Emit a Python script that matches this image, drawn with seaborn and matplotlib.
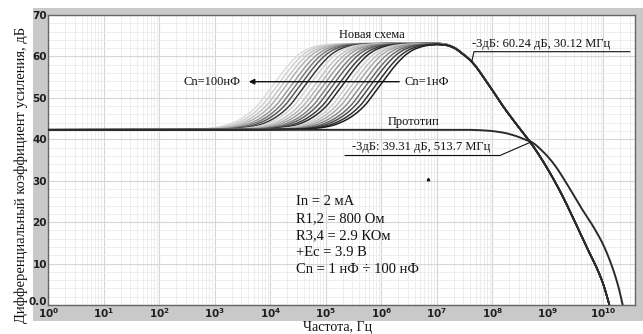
import numpy as np
import pandas as pd
import matplotlib
matplotlib.use("Agg")
import matplotlib.pyplot as plt
import matplotlib.transforms as mtransforms
import seaborn as sns
from matplotlib.patches import Rectangle
from matplotlib.ticker import FixedLocator, FuncFormatter, LogLocator, MultipleLocator, NullFormatter

# ---------------- data ----------------
y_ticks = [0, 10, 20, 30, 40, 50, 60, 70]
y_tick_labels = ["0.0", "10", "20", "30", "40", "50", "60", "70"]
x_decades = [0, 1, 2, 3, 4, 5, 6, 7, 8, 9, 10]

# Prototype response (log10 f, dB)
proto_logf = [0.0, 7.5, 7.9, 8.2, 8.4, 8.6, 8.71, 8.9, 9.1, 9.4, 9.6, 9.82, 10.0, 10.18, 10.28, 10.35]
proto_db = [42.3, 42.3, 42.1, 41.6, 40.9, 39.9, 39.3, 37.2, 34.2, 28.0, 23.5, 18.9, 14.5, 8.45, 4.0, 0.0]

# New scheme: common high-frequency part (log10 f, dB)
new_hi_logf = [7.0, 7.15, 7.3, 7.45, 7.63, 7.9, 8.2, 8.5, 8.68, 8.9, 9.2, 9.52, 9.7, 9.9, 10.0, 10.11]
new_hi_db = [63.24, 63.0, 62.3, 60.9, 58.8, 53.9, 47.9, 42.5, 39.4, 35.0, 28.0, 19.2, 14.0, 8.4, 5.0, 0.0]
new_peak_db = 63.24

# New scheme: low-frequency level and rise shape (offset in decades from mid point, dB rise)
base_db = 42.3
rise_off = [-2.5, -1.4, -1.1, -0.9, -0.7, -0.5, -0.3, -0.15, 0.0, 0.15, 0.3, 0.45, 0.6, 0.8, 1.0, 1.5, 2.5, 4.0]
rise_db = [0.0, 0.15, 0.5, 1.0, 2.0, 3.6, 6.0, 8.6, 11.3, 14.0, 16.4, 18.3, 19.5, 20.3, 20.6, 20.8, 20.9, 20.94]

# Mid points (log10 f) of the Cn family, from Cn=100 nF (left) to Cn=1 nF (right)
cn_mid_logf = [4.08, 4.16, 4.24, 4.32, 4.41, 4.49, 4.57, 4.66, 4.74, 4.83, 4.91, 4.99,
               5.08, 5.16, 5.25, 5.33, 5.42, 5.50, 5.58, 5.67, 5.76, 5.84, 5.93, 6.01]
cn_shade = ["#dcdcdc", "#d0d0d0", "#c4c4c4", "#b0b0b0", "#9a9a9a", "#7a7a7a", "#5a5a5a", "#3a3a3a",
            "#d4d4d4", "#c4c4c4", "#b4b4b4", "#9c9c9c", "#808080", "#606060", "#404040", "#2a2a2a",
            "#cfcfcf", "#bdbdbd", "#a8a8a8", "#8c8c8c", "#6c6c6c", "#4c4c4c", "#333333", "#1e1e1e"]

params_lines = ["In = 2 мА", "R1,2 = 800 Ом", "R3,4 = 2.9 КОм", "+Ec = 3.9 В", "Cn = 1 нФ ÷ 100 нФ"]


def pchip(xk, yk, x):
    xk = np.asarray(xk, float)
    yk = np.asarray(yk, float)
    h = np.diff(xk)
    d = np.diff(yk) / h
    m = np.zeros_like(yk)
    for k in range(1, len(xk) - 1):
        if d[k - 1] * d[k] > 0:
            w1 = 2 * h[k] + h[k - 1]
            w2 = h[k] + 2 * h[k - 1]
            m[k] = (w1 + w2) / (w1 / d[k - 1] + w2 / d[k])
    m[0] = 0.0 if abs(d[0]) < 1e-9 else d[0]
    m[-1] = d[-1]
    x = np.clip(np.asarray(x, float), xk[0], xk[-1])
    i = np.clip(np.searchsorted(xk, x) - 1, 0, len(h) - 1)
    t = (x - xk[i]) / h[i]
    h00 = 2 * t**3 - 3 * t**2 + 1
    h10 = t**3 - 2 * t**2 + t
    h01 = -2 * t**3 + 3 * t**2
    h11 = t**3 - t**2
    return h00 * yk[i] + h10 * h[i] * m[i] + h01 * yk[i + 1] + h11 * h[i] * m[i + 1]


# ---------------- figure ----------------
sns.set_theme(style="white")
plt.rcParams["font.family"] = ["Liberation Serif", "DejaVu Serif"]
plt.rcParams["mathtext.fontset"] = "dejavusans"

W, H = 643, 334
fig = plt.figure(figsize=(W / 100, H / 100), dpi=100, facecolor="white")
bg = Rectangle((33 / W, (H - 321) / H), 610 / W, 313 / H, transform=fig.transFigure,
               facecolor="#c9c9c9", edgecolor="none")
bg.set_zorder(-10)
fig.patches.append(bg)
x0, x1, ytop, ybot = 48.3, 635.0, 15.0, 305.0
ax = fig.add_axes([x0 / W, (H - ybot) / H, (x1 - x0) / W, (ybot - ytop) / H])
ax.set_zorder(1)
ax.set_facecolor("white")

lf_new = np.arange(0.0, 10.11 + 1e-9, 0.004)
adj = np.where(lf_new >= new_hi_logf[0], pchip(new_hi_logf, new_hi_db, lf_new) - new_peak_db, 0.0)
for mid, col in zip(cn_mid_logf, cn_shade):
    y = base_db + pchip(rise_off, rise_db, lf_new - mid) + adj
    y = np.clip(y, 0, None)
    df = pd.DataFrame({"f": 10 ** lf_new, "db": y})
    sns.lineplot(data=df, x="f", y="db", ax=ax, color=col, lw=1.1,
                 estimator=None, sort=False, zorder=3)

# common high-frequency part of the new scheme (dark)
lf_hi = np.arange(6.9, 10.11 + 1e-9, 0.004)
y_hi = base_db + pchip(rise_off, rise_db, lf_hi - cn_mid_logf[-1]) + \
    np.where(lf_hi >= new_hi_logf[0], pchip(new_hi_logf, new_hi_db, lf_hi) - new_peak_db, 0.0)
sns.lineplot(x=10 ** lf_hi, y=np.clip(y_hi, 0, None), ax=ax, color="#2a2a2a", lw=1.3,
             estimator=None, sort=False, zorder=4)

# prototype
lf_p = np.arange(0.0, 10.35 + 1e-9, 0.004)
sns.lineplot(x=10 ** lf_p, y=np.clip(pchip(proto_logf, proto_db, lf_p), 0, None), ax=ax,
             color="#2a2a2a", lw=1.4, estimator=None, sort=False, zorder=4)

# ---------------- axes ----------------
ax.set_xscale("log")
ax.set_xlim(1, 10 ** ((x1 - x0) / 55.5))
ax.set_ylim(0, 70)
ax.xaxis.set_major_locator(FixedLocator([10.0 ** d for d in x_decades]))
ax.xaxis.set_minor_locator(LogLocator(base=10, subs=np.arange(2, 10), numticks=50))
ax.xaxis.set_minor_formatter(NullFormatter())
ax.xaxis.set_major_formatter(FuncFormatter(lambda v, p: r"$\mathbf{10^{%d}}$" % round(np.log10(v))))
ax.yaxis.set_major_locator(FixedLocator(y_ticks))
ax.yaxis.set_minor_locator(MultipleLocator(2))
ax.yaxis.set_major_formatter(FuncFormatter(lambda v, p: y_tick_labels[y_ticks.index(int(round(v)))]))

ax.tick_params(axis="both", which="major", direction="in", length=3, width=0.8,
               color="#555555", labelcolor="#1e1e1e")
ax.tick_params(axis="both", which="minor", direction="in", length=1.6, width=0.6, color="#666666")
ax.tick_params(axis="y", which="major", pad=1, labelsize=7.5)
ax.tick_params(axis="x", which="major", pad=1, labelsize=7.5)
for lab in ax.get_yticklabels():
    lab.set_fontfamily("DejaVu Sans")
    lab.set_fontweight("bold")

fig.canvas.draw()
ylabs = ax.get_yticklabels()
ylabs[0].set_transform(ylabs[0].get_transform() +
                       mtransforms.ScaledTranslation(0, 4 / 100, fig.dpi_scale_trans))

ax.grid(which="major", color="#d6d6d6", lw=0.8)
ax.grid(which="minor", color="#ebebeb", lw=0.6)
ax.set_axisbelow(True)
for s in ax.spines.values():
    s.set_color("#666666")
    s.set_linewidth(1.0)

ax.set_xlabel("")
ax.set_ylabel("")
fig.text(337.5 / W, 1 - 333.8 / H, "Частота, Гц", ha="center", va="bottom", fontsize=10, color="#111111")
fig.text(21 / W, 1 - 175 / H, "Дифференциальный коэффициент усиления, дБ", rotation=90,
         ha="center", va="center", fontsize=10.5, color="#111111")


def px(xp, yp):
    return 10 ** ((xp - x0) / 55.5), (ybot - yp) / ((ybot - ytop) / 70)


tk = dict(color="#111111", zorder=6)
ax.text(*px(372, 35), "Новая схема", ha="center", va="center", fontsize=9, **tk)
ax.text(*px(414, 122), "Прототип", ha="center", va="center", fontsize=9, **tk)
ax.text(*px(241, 81.7), "Cn=100нФ", ha="right", va="center", fontsize=9, **tk)
ax.text(*px(404, 81.7), "Cn=1нФ", ha="left", va="center", fontsize=9, **tk)
ax.annotate("", xy=px(246, 81.7), xytext=px(402, 81.7),
            arrowprops=dict(arrowstyle="-|>", color="#111111", lw=1.0, mutation_scale=8), zorder=6)

ax.text(*px(352, 146.5), "-3дБ: 39.31 дБ, 513.7 МГц", ha="left", va="center", fontsize=9, **tk)
xs, ys = zip(px(345, 155.5), px(500, 155.5), px(531.7, 141.7))
ax.plot(xs, ys, color="#111111", lw=0.8, zorder=6)

ax.text(*px(472, 43.5), "-3дБ: 60.24 дБ, 30.12 МГц", ha="left", va="center", fontsize=9, **tk)
xs, ys = zip(px(630, 51.7), px(474, 51.7), px(471.7, 61.7))
ax.plot(xs, ys, color="#111111", lw=0.8, zorder=6)

for i, line in enumerate(params_lines):
    ax.text(*px(296, 201.5 + 17 * i), line, ha="left", va="center", fontsize=10.5, **tk)

ax.plot(*px(428.3, 178.5), marker="^", ms=1.8, color="#111111", zorder=6)

fig.savefig("out.png", dpi=100, facecolor="white")
